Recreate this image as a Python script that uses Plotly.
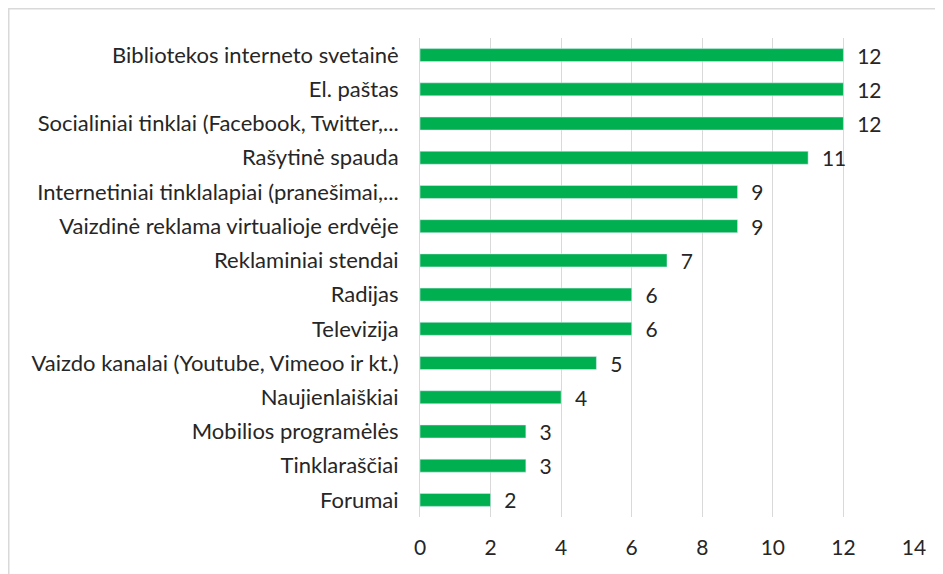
import plotly.graph_objects as go

categories = [
    "Bibliotekos interneto svetainė",
    "El. paštas",
    "Socialiniai tinklai (Facebook, Twitter,...",
    "Rašytinė spauda",
    "Internetiniai tinklalapiai (pranešimai,...",
    "Vaizdinė reklama virtualioje erdvėje",
    "Reklaminiai stendai",
    "Radijas",
    "Televizija",
    "Vaizdo kanalai (Youtube, Vimeoo ir kt.)",
    "Naujienlaiškiai",
    "Mobilios programėlės",
    "Tinklaraščiai",
    "Forumai",
]
values = [12, 12, 12, 11, 9, 9, 7, 6, 6, 5, 4, 3, 3, 2]
x_ticks = [0, 2, 4, 6, 8, 10, 12, 14]

# page body has an 8px margin, so the figure is offset by 8px
W, H = 935, 566
L, R, T, B = 412, 29, 30, 57
FS = 22

fig = go.Figure(go.Bar(
    x=values,
    y=categories,
    orientation="h",
    marker=dict(color="#00B050"),
    text=values,
    texttemplate="  %{x}",
    textposition="outside",
    constraintext="none",
    textfont=dict(size=FS - 1, color="#262626"),
    cliponaxis=False,
))

fig.update_layout(
    width=W, height=H,
    margin=dict(l=L, r=R, t=T, b=B),
    plot_bgcolor="white",
    paper_bgcolor="white",
    font=dict(family="Lato, Open Sans, sans-serif", size=FS, color="#262626"),
    bargap=0.62,
    showlegend=False,
    xaxis=dict(
        range=[0, 14],
        tickvals=x_ticks,
        showgrid=True,
        gridcolor="#d9d9d9",
        gridwidth=1,
        zeroline=False,
        showline=False,
        ticks="",
        ticklabelstandoff=16,
        tickfont=dict(size=FS - 1, color="#262626"),
        automargin=False,
        fixedrange=True,
    ),
    yaxis=dict(
        autorange="reversed",
        showline=True,
        linecolor="#d9d9d9",
        linewidth=1,
        ticks="",
        ticklabelstandoff=16,
        tickfont=dict(size=FS, color="#262626"),
        automargin=False,
    ),
    shapes=[dict(
        type="rect", xref="paper", yref="paper",
        x0=(0.5 - L) / (W - L - R), x1=(W + 5 - L) / (W - L - R),
        y0=(H - B - H - 5) / (H - T - B), y1=(H - B - 0.5) / (H - T - B),
        line=dict(color="#d9d9d9", width=2),
        fillcolor="rgba(0,0,0,0)",
        layer="below",
    )],
)

fig.write_html("out.html")
